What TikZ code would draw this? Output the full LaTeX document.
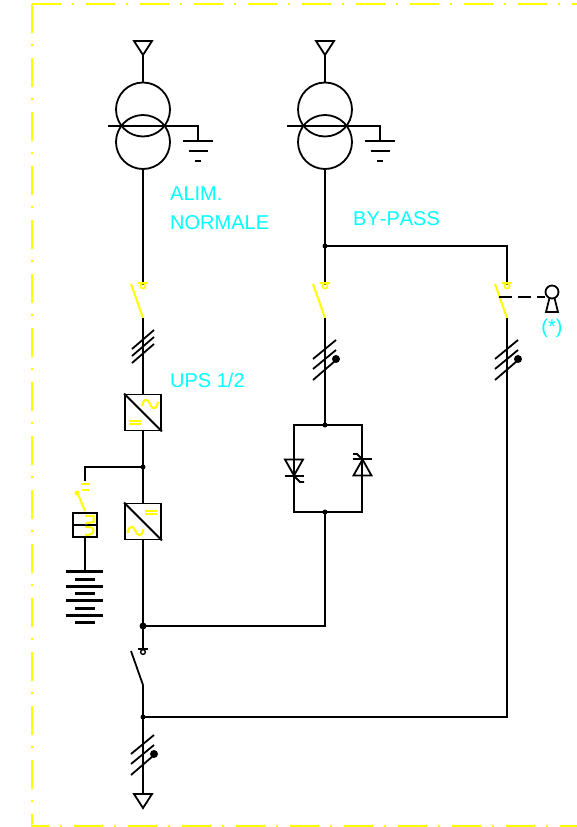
\documentclass[tikz,border=0pt]{standalone}
\usepackage{fontspec}
\setmainfont[Kerning=Off]{Liberation Sans}
\definecolor{frameyel}{RGB}{255,255,0}
\definecolor{labelcyan}{RGB}{0,255,255}
\tikzset{
  wire/.style={line width=1.8pt, black},
  yelwire/.style={line width=2pt, frameyel},
  batbar/.style={line width=2.6pt, black},
  framedash/.style={line width=1.6pt, frameyel, dash pattern=on 29pt off 11pt on 2pt off 12pt},
  junction/.style={circle, fill=black, draw=none, inner sep=0pt, minimum size=5pt},
  bigdot/.style={circle, fill=black, draw=none, inner sep=0pt, minimum size=8pt},
  tankcircle/.style={circle, draw=black, line width=1.8pt, inner sep=0pt, minimum size=54pt},
  convbox/.style={rectangle, draw=black, line width=1.8pt, inner sep=0pt, minimum size=36pt},
  label/.style={anchor=west, inner sep=0pt, text=labelcyan, font=\fontsize{20}{24}\selectfont},
  % terminal triangle, origin on the wire at its flat side
  pics/terminal/.style={code={
    \draw [wire, line join=miter] (-9,0) -- (9,0) -- (0,14) -- cycle;
  }},
  % earth bars, origin at the top bar
  pics/earth/.style={code={
    \draw [wire] (-15,0) -- (15,0);
    \draw [wire] (-9.5,10) -- (9.5,10);
    \draw [wire] (-3,20) -- (3,20);
  }},
  % origin at the lower end of the blade
  pics/contactmark/.style={code={
    \draw [#1] (-5,-35) -- (5,-35);
    \draw [#1, line width=1.6pt] (0,-32) circle (2.6);
  }},
  pics/blade/.style={code={
    \draw [#1] (-12,-34) -- (0,0);
  }},
  pics/slashes/.style={code={
    \draw [wire] (-11,9) -- (11,-10);
    \draw [wire] (-11,16) -- (11,-3);
    \draw [wire] (-11,23) -- (11,4);
  }},
  pics/slashesdot/.style={code={
    \draw [wire] (-12,12) -- (11,-7);
    \draw [wire] (-12,22) -- (11,3);
    \draw [wire] (-12,33) -- (10,14);
  }},
  pics/wave/.style={code={
    \draw [yelwire] (-8,2) .. controls (-6,-7) and (-2,-5) .. (0,0) .. controls (2,5) and (6,7) .. (8,-2);
  }},
  pics/equal/.style={code={
    \draw [yelwire] (-6,-1.7) -- (6,-1.7);
    \draw [yelwire] (-6,1.7) -- (6,1.7);
  }}
}

\begin{document}
\begin{tikzpicture}[x=1pt, y=-1pt]
\useasboundingbox (0,0) rectangle (576,827);

% frame
\draw [framedash] (32,4) -- (590,4);
\draw [framedash] (32,4) -- (32,826) -- (590,826);

% inputs
\coordinate (InA) at (143,54);
\coordinate (InB) at (325,54);
\pic at (143,41) {terminal};
\pic at (325,41) {terminal};

% transformers
\node (TrA1) at (143,109.5) [tankcircle] {};
\node (TrA2) at (143,142) [tankcircle] {};
\node (TrB1) at (325,109.5) [tankcircle] {};
\node (TrB2) at (325,142) [tankcircle] {};
\coordinate (TrAw) at (108,126);
\coordinate (TrAe) at (198,126);
\coordinate (TrBw) at (287,126);
\coordinate (TrBe) at (380,126);
\coordinate (EarthA) at (198,141);
\coordinate (EarthB) at (380,141);
\draw [wire] (InA) -- (TrA1);
\draw [wire] (InB) -- (TrB1);
\draw [wire] (TrAw) -- (TrAe) -- (EarthA);
\draw [wire] (TrBw) -- (TrBe) -- (EarthB);
\pic at (EarthA) {earth};
\pic at (EarthB) {earth};

% labels
\node (LabAlim) at (170,193.5) [label] {ALIM.};
\node (LabNorm) at (170,222.5) [label] {NORMALE};
\node (LabBypass) at (353,218.5) [label] {BY-PASS};
\node (LabUps) at (170,380) [label] {UPS 1/2};

% switches
\coordinate (SwAtop) at (143,285);
\coordinate (SwBtop) at (325,285);
\coordinate (SwCtop) at (507,285);
\coordinate (SwA) at (143,318);
\coordinate (SwB) at (325,318);
\coordinate (SwC) at (507,318);
\node (JctBypass) at (325,246) [junction] {};
\draw [wire] (TrA2) -- (SwAtop);
\draw [wire] (TrB2) -- (SwBtop);
\draw [wire] (JctBypass.center) -- (507,246) -- (SwCtop);
\pic at (SwA) {contactmark=yelwire};
\pic at (SwB) {contactmark=yelwire};
\pic at (SwC) {contactmark=yelwire};
\pic at (SwA) {blade=yelwire};
\pic at (SwB) {blade=yelwire};
\pic at (SwC) {blade=yelwire};

% rectifier and inverter
\node (Rect) at (143,412.5) [convbox] {};
\node (Inv) at (143,521.5) [convbox] {};
\node (JctBat) at (143,467) [junction] {};
\node (JctOut) at (143,626) [junction, minimum size=7pt] {};
\draw [wire] (Rect.north west) -- (Rect.south east);
\draw [wire] (Inv.north west) -- (Inv.south east);
\pic at (150,404) {wave};
\pic at (135,422.5) {equal};
\pic at (151,512.5) {equal};
\pic at (135.5,531) {wave};
\draw [wire] (SwA) -- (Rect);
\draw [wire] (Rect) -- (Inv);
\draw [wire] (Inv) -- (JctOut.center);
\pic at (143,340) {slashes};

% battery
\coordinate (BatTop) at (85,481);
\coordinate (BatBlade) at (85,511);
\coordinate (BatFoot) at (85,571.5);
\node (BatBox) at (85,525) [rectangle, draw=black, line width=1.8pt, inner sep=0pt, minimum width=24pt, minimum height=24pt] {};
\draw [wire] (JctBat.center) -- (85,467) -- (BatTop);
\draw [wire] (BatBox.west) -- (BatBox.east);
\draw [yelwire] (80.5,484) -- (89.5,484);
\draw [yelwire] (81.5,490) -- (88.5,490);
\draw [yelwire] (77,492) -- (BatBlade);
\fill [frameyel] (77,493) circle (2.5);
\draw [yelwire] (85,516) -- (93.5,516) -- (93.5,522) -- (85,523.5);
\draw [yelwire] (85,527) .. controls (90,527) and (93.5,527) .. (93.5,530.5) .. controls (93.5,534) and (90,535) .. (85,535);
\draw [wire] (BatBox) -- (BatFoot);
\draw [batbar] (66,571.5) -- (103,571.5);
\draw [batbar] (75,579.5) -- (95,579.5);
\draw [batbar] (66,586.5) -- (103,586.5);
\draw [batbar] (75,593.5) -- (95,593.5);
\draw [batbar] (66,600.5) -- (103,600.5);
\draw [batbar] (75,608.5) -- (95,608.5);
\draw [batbar] (66,615.5) -- (103,615.5);
\draw [batbar] (75,622.5) -- (95,622.5);

% static switch
\node (JctStatic1) at (325,425) [junction] {};
\node (JctStatic2) at (325,512) [junction] {};
\coordinate (StaticNW) at (294,425);
\coordinate (StaticNE) at (362,425);
\coordinate (StaticSW) at (294,512);
\coordinate (StaticSE) at (362,512);
\draw [wire] (SwB) -- (JctStatic1.center);
\draw [wire] (StaticNW) -- (StaticNE) -- (StaticSE) -- (StaticSW) -- cycle;
\pic at (325,347) {slashesdot};
\node (DotB) at (336,359) [bigdot] {};
\draw [wire, line join=miter] (285,459.5) -- (303,459.5) -- (294,475.5) -- cycle;
\draw [wire] (284.5,476) -- (304,476);
\draw [wire] (294,476) -- (300,482) -- (304,482);
\draw [wire, line join=miter] (353.5,475.5) -- (371.5,475.5) -- (362.5,459.5) -- cycle;
\draw [wire] (353,459) -- (372,459);
\draw [wire] (362,459) -- (357,454) -- (353,454);
\draw [wire] (JctStatic2.center) -- (325,626) -- (JctOut.center);

% manual by-pass line
\node (JctLoad) at (143,717) [junction] {};
\draw [wire] (SwC) -- (507,717) -- (JctLoad.center);
\pic at (507,347) {slashesdot};
\node (DotC) at (518,359) [bigdot] {};

% lock
\node (LockHead) at (552,292) [circle, draw=black, line width=1.8pt, inner sep=0pt, minimum size=13pt] {};
\draw [wire, line join=miter] (549.5,298) -- (546,312) -- (558,312) -- (554.5,298);
\coordinate (LockLink) at (545,297);
\draw [wire, dash pattern=on 13pt off 6pt] (499,297) -- (LockLink);
\node (LabStar) at (552,328.5) [label, anchor=center] {(*)};

% output
\coordinate (SwDtop) at (143,648);
\coordinate (SwD) at (143,685);
\coordinate (Out) at (143,794);
\draw [wire] (JctOut.center) -- (SwDtop);
\draw [wire] (138,649) -- (148,649);
\draw [line width=1.4pt] (143,652) circle (2.4);
\pic at (SwD) {blade=wire};
\draw [wire] (SwD) -- (Out);
\pic at (143,742) {slashesdot};
\node (DotD) at (154,754) [bigdot] {};
\pic at (Out) {terminal};
\end{tikzpicture}
\end{document}
